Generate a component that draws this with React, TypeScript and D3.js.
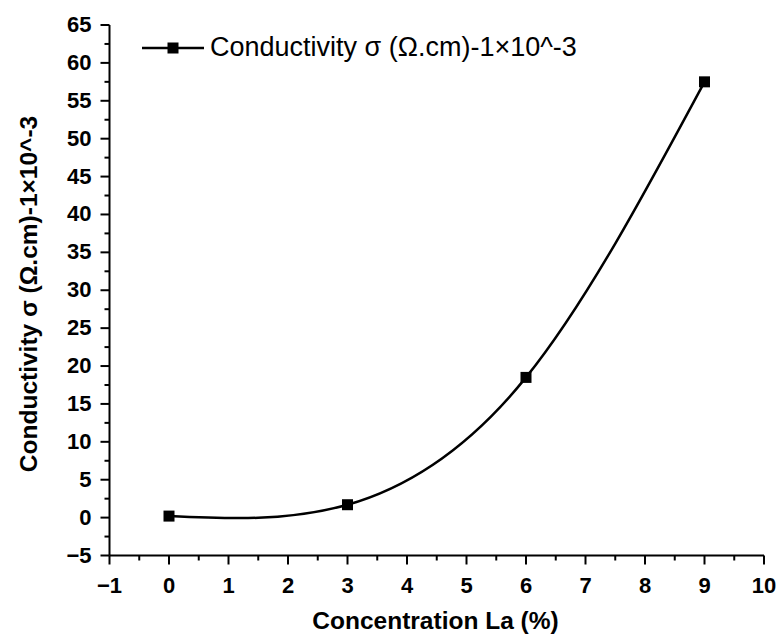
import React from "react";
import * as d3 from "d3";

const concentration = [0, 3, 6, 9];
const conductivity = [0.2, 1.7, 18.5, 57.5];
const xTicks = [-1, 0, 1, 2, 3, 4, 5, 6, 7, 8, 9, 10];
const yTicks = [-5, 0, 5, 10, 15, 20, 25, 30, 35, 40, 45, 50, 55, 60, 65];
const seriesName = "Conductivity σ (Ω.cm)-1×10^-3";
const xTitle = "Concentration La (%)";
const yTitle = "Conductivity σ (Ω.cm)-1×10^-3";

const fmt = (t: number) => (t < 0 ? "−" + Math.abs(t) : String(t));

export default function App() {
  const W = 778, H = 635;
  const x = d3.scaleLinear().domain([-1, 10]).range([109.5, 764]);
  const y = d3.scaleLinear().domain([-5, 65]).range([555.5, 25]);
  const pts: [number, number][] = concentration.map((c, i) => [x(c), y(conductivity[i])]);
  const line = d3.line().curve(d3.curveNatural)(pts) || "";
  const xMinor = d3.range(-1, 10, 0.5).filter((v) => !Number.isInteger(v));
  const yMinor = d3.range(-5, 65, 2.5).filter((v) => v % 5 !== 0);
  const font = "Arial, 'Liberation Sans', sans-serif";
  const ms = 11;
  const tickFs = 22;
  return (
    <svg width={W} height={H} style={{ position: "absolute", left: 0, top: 0, background: "#fff" }}>
      <g fontFamily={font}>
        {/* axes */}
        <line x1={x(-1)} x2={x(10)} y1={y(-5)} y2={y(-5)} stroke="#000" strokeWidth={2} />
        <line x1={x(-1)} x2={x(-1)} y1={y(-5)} y2={y(65)} stroke="#000" strokeWidth={2} />
        {xTicks.map((t) => (
          <g key={"xt" + t}>
            <line x1={x(t)} x2={x(t)} y1={y(-5)} y2={y(-5) + 9} stroke="#000" strokeWidth={2} />
            <text x={x(t)} y={y(-5) + 37} textAnchor="middle" fontSize={tickFs} fontWeight="bold">
              {fmt(t)}
            </text>
          </g>
        ))}
        {xMinor.map((t) => (
          <line key={"xm" + t} x1={x(t)} x2={x(t)} y1={y(-5)} y2={y(-5) + 5} stroke="#000" strokeWidth={2} />
        ))}
        {yTicks.map((t) => (
          <g key={"yt" + t}>
            <line x1={x(-1) - 9} x2={x(-1)} y1={y(t)} y2={y(t)} stroke="#000" strokeWidth={2} />
            <text x={x(-1) - 18} y={y(t) + 7} textAnchor="end" fontSize={tickFs} fontWeight="bold">
              {fmt(t)}
            </text>
          </g>
        ))}
        {yMinor.map((t) => (
          <line key={"ym" + t} x1={x(-1) - 5} x2={x(-1)} y1={y(t)} y2={y(t)} stroke="#000" strokeWidth={2} />
        ))}
        {/* titles */}
        <text x={435.5} y={629} textAnchor="middle" fontSize={24.5} fontWeight="bold">
          {xTitle}
        </text>
        <text
          transform={`translate(37, 294) rotate(-90)`}
          textAnchor="middle"
          fontSize={24.5}
          fontWeight="bold"
        >
          {yTitle}
        </text>
        {/* series */}
        <path d={line} fill="none" stroke="#000" strokeWidth={2.5} />
        {pts.map(([px, py], i) => (
          <rect key={"m" + i} x={px - ms / 2} y={py - ms / 2} width={ms} height={ms} fill="#000" />
        ))}
        {/* legend */}
        <line x1={142} x2={204} y1={48} y2={48} stroke="#000" strokeWidth={2.5} />
        <rect x={173 - ms / 2} y={48 - ms / 2} width={ms} height={ms} fill="#000" />
        <text x={210} y={56} fontSize={27}>
          {seriesName}
        </text>
      </g>
    </svg>
  );
}
